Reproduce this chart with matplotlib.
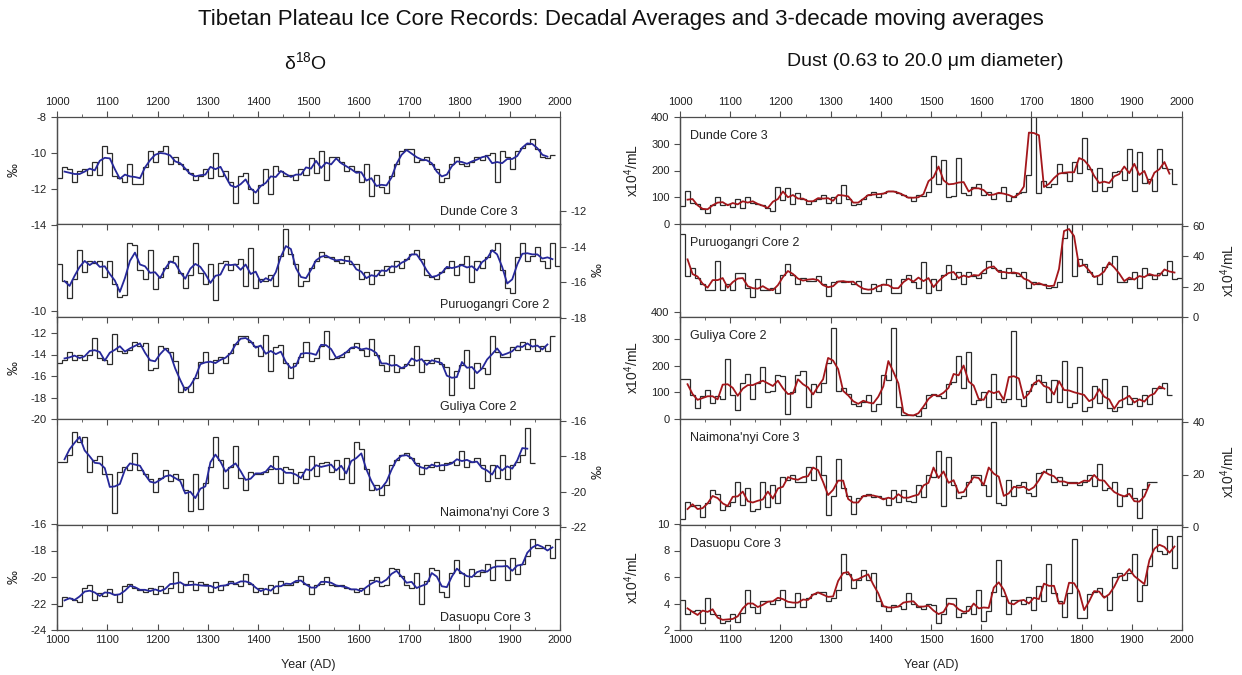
import numpy as np
from matplotlib import pyplot as plt
from matplotlib.ticker import MultipleLocator, FormatStrFormatter

plt.rcParams['font.family'] = ['Liberation Sans', 'DejaVu Sans']
plt.rcParams['axes.unicode_minus'] = False
plt.rcParams['mathtext.fontset'] = 'custom'
plt.rcParams['mathtext.rm'] = 'Liberation Sans'
plt.rcParams['mathtext.it'] = 'Liberation Sans:italic'

W, H = 1242, 675
FIRST_DECADE = 1000
DECADE = 10

CORES = ["Dunde Core 3", "Puruogangri Core 2", "Guliya Core 2",
         "Naimona'nyi Core 3", "Dasuopu Core 3"]

# decadal averages, first value = 1000-1009
dunde_d18o = [-11.4, -10.8, -10.9, -11.6, -11.0, -10.9, -11.2, -10.5, -11.2, -9.6,
              -10.0, -11.3, -11.4, -11.6, -10.6, -11.7, -11.7, -10.8, -9.9, -10.5,
              -9.9, -9.6, -10.6, -10.2, -10.6, -10.9, -11.1, -11.5, -11.3, -10.9,
              -11.4, -10.0, -11.3, -11.0, -11.6, -12.8, -11.3, -11.1, -12.0, -12.8,
              -11.8, -10.9, -12.3, -10.7, -11.0, -11.3, -11.2, -11.5, -10.9, -11.2,
              -10.3, -11.1, -9.9, -11.5, -10.2, -10.2, -10.5, -11.0, -10.7, -11.0,
              -11.6, -10.6, -12.4, -11.2, -11.9, -12.2, -11.3, -10.6, -9.9, -9.8,
              -9.8, -10.5, -10.4, -10.2, -10.6, -10.9, -11.6, -11.4, -10.6, -10.2,
              -10.6, -10.7, -10.5, -10.2, -10.4, -10.1, -10.0, -11.6, -9.9, -10.2,
              -10.9, -9.9, -9.7, -9.5, -9.2, -9.8, -10.2, -10.3, -10.1]
puru_d18o = [-15.0, -15.9, -16.9, -15.8, -14.2, -15.4, -14.8, -14.9, -14.8, -15.7,
             -14.8, -16.1, -16.8, -16.7, -13.8, -13.9, -15.3, -15.8, -14.2, -16.4,
             -15.7, -15.2, -14.8, -14.5, -15.5, -16.3, -15.6, -13.8, -15.5, -16.1,
             -15.0, -17.0, -14.9, -14.8, -15.3, -15.0, -14.7, -16.2, -14.1, -16.3,
             -15.8, -15.9, -15.6, -16.2, -14.5, -13.0, -14.4, -15.0, -16.2, -15.9,
             -15.2, -14.8, -14.3, -14.6, -14.6, -14.8, -14.9, -14.5, -15.0, -15.0,
             -15.8, -15.4, -16.1, -15.3, -15.6, -15.1, -15.4, -14.8, -15.2, -14.7,
             -14.4, -14.2, -14.7, -15.6, -15.7, -15.8, -15.4, -15.2, -14.8, -15.6,
             -15.0, -14.5, -16.0, -14.8, -15.2, -14.6, -14.2, -13.8, -15.3, -16.3,
             -16.6, -14.6, -13.8, -14.8, -14.5, -14.0, -14.8, -15.2, -13.8, -15.1]
guliya_d18o = [-14.8, -14.5, -13.8, -14.5, -14.0, -14.5, -14.0, -12.5, -14.3, -14.5,
               -14.9, -12.1, -13.7, -13.9, -13.6, -12.8, -13.2, -12.9, -15.4, -15.3,
               -13.2, -13.4, -13.8, -14.6, -17.5, -17.0, -17.5, -16.2, -14.7, -13.8,
               -15.7, -14.5, -14.2, -14.8, -13.9, -13.0, -12.3, -12.3, -12.8, -13.2,
               -14.1, -12.2, -15.5, -13.3, -13.1, -14.8, -16.2, -14.8, -14.2, -12.8,
               -14.6, -14.3, -13.2, -11.8, -14.4, -14.3, -14.2, -13.8, -13.4, -12.9,
               -13.6, -14.1, -12.6, -14.0, -15.0, -15.5, -14.0, -15.6, -15.3, -14.9,
               -15.0, -13.2, -15.6, -14.5, -14.8, -14.3, -14.9, -15.2, -17.8, -15.5,
               -15.0, -13.6, -17.1, -14.8, -15.3, -15.8, -12.3, -13.8, -14.2, -14.2,
               -13.3, -13.6, -12.8, -13.5, -12.6, -13.7, -13.2, -13.7, -12.3]
naimona_d18o = [-18.3, -18.3, -17.9, -16.6, -17.2, -16.9, -18.9, -18.2, -18.0, -19.0,
                -19.0, -21.2, -18.9, -18.6, -18.8, -17.8, -18.8, -19.0, -19.3, -20.0,
                -19.2, -18.8, -19.4, -19.0, -19.3, -19.9, -21.1, -19.0, -21.0, -19.5,
                -18.6, -16.9, -18.2, -19.8, -18.6, -17.4, -19.2, -19.9, -18.9, -19.0,
                -19.0, -18.9, -18.7, -18.0, -19.5, -18.6, -18.7, -19.5, -18.9, -19.3,
                -18.0, -19.1, -18.4, -18.3, -18.9, -18.2, -19.3, -18.1, -19.5, -17.2,
                -17.6, -18.7, -19.9, -19.6, -20.2, -19.6, -18.5, -18.2, -17.9, -17.8,
                -18.1, -18.4, -19.0, -18.5, -18.6, -18.3, -18.8, -18.4, -18.3, -18.5,
                -17.7, -18.6, -18.3, -18.1, -18.5, -19.4, -18.5, -19.2, -17.9, -19.3,
                -18.5, -18.3, -17.9, -16.4, -18.4]
dasuopu_d18o = [-22.2, -21.5, -21.6, -21.7, -21.9, -20.8, -20.6, -21.7, -21.2, -21.4,
                -20.9, -21.3, -21.9, -20.7, -20.5, -20.8, -21.0, -21.1, -20.8, -21.3,
                -20.7, -21.2, -20.8, -19.6, -21.1, -20.5, -20.3, -21.0, -20.4, -20.5,
                -21.1, -20.4, -21.0, -20.6, -20.3, -20.5, -20.7, -19.8, -20.5, -21.1,
                -20.8, -21.3, -20.6, -21.2, -20.3, -20.6, -20.6, -20.4, -19.9, -20.5,
                -21.3, -20.6, -20.5, -20.0, -20.6, -20.7, -20.6, -20.8, -20.9, -21.1,
                -20.8, -21.3, -20.2, -20.0, -20.7, -20.6, -19.3, -19.4, -19.9, -20.6,
                -20.8, -19.7, -22.0, -20.3, -19.3, -19.5, -21.1, -21.5, -19.7, -18.7,
                -19.7, -20.7, -19.4, -19.9, -19.6, -19.0, -20.2, -18.7, -18.7, -20.2,
                -18.6, -19.8, -19.0, -18.4, -17.1, -17.8, -17.8, -17.6, -18.6, -17.1]

dunde_dust = [68, 125, 80, 75, 55, 40, 70, 100, 70, 75,
              65, 95, 60, 100, 80, 75, 70, 60, 50, 140,
              90, 135, 75, 115, 95, 75, 85, 95, 110, 80,
              100, 80, 145, 95, 70, 75, 95, 110, 120, 100,
              115, 125, 125, 115, 110, 100, 85, 110, 105, 120,
              255, 150, 240, 100, 105, 245, 115, 110, 140, 150,
              110, 120, 95, 115, 140, 85, 100, 115, 120, 185,
              720, 115, 160, 140, 150, 225, 190, 160, 230, 190,
              320, 205, 125, 210, 125, 140, 195, 200, 165, 280,
              125, 270, 155, 170, 125, 280, 210, 205, 150]
puru_dust = [55, 27, 32, 26, 22, 18, 18, 37, 18, 22,
             18, 29, 29, 19, 13, 25, 18, 18, 19, 16,
             28, 35, 28, 22, 26, 24, 24, 27, 22, 14,
             23, 24, 23, 24, 22, 24, 16, 16, 22, 17,
             22, 25, 16, 16, 25, 28, 23, 19, 36, 16,
             25, 18, 28, 34, 25, 30, 22, 30, 27, 26,
             29, 37, 32, 31, 26, 32, 29, 27, 30, 19,
             23, 22, 22, 19, 20, 23, 52, 95, 27, 38,
             35, 30, 27, 22, 33, 35, 40, 23, 23, 25,
             30, 19, 32, 28, 25, 29, 28, 37, 25, 26]
guliya_dust = [150, 150, 90, 40, 85, 110, 60, 85, 75, 225,
               90, 35, 135, 170, 75, 135, 195, 100, 105, 165,
               160, 20, 100, 165, 180, 45, 130, 100, 135, 210,
               340, 105, 115, 95, 55, 50, 65, 90, 30, 55,
               165, 145, 340, 45, 15, 15, 15, 10, 40, 90,
               95, 85, 80, 130, 140, 235, 115, 250, 55, 70,
               100, 45, 170, 75, 65, 75, 330, 75, 50, 105,
               130, 165, 140, 65, 145, 65, 215, 45, 60, 195,
               30, 45, 125, 60, 150, 40, 30, 45, 125, 55,
               80, 50, 90, 55, 115, 115, 135, 90]
naimona_dust = [3, 9.5, 8, 8.5, 4, 9, 14, 12.5, 6.5, 8,
                9.5, 17, 8.5, 15, 6, 7, 17, 7.5, 16, 9,
                19, 18, 20, 17, 17, 23, 18, 27, 20, 4.5,
                12, 26, 15, 12, 5, 11, 12, 12.5, 11.5, 12,
                11, 8.5, 14, 9.5, 14, 10, 9.5, 16, 11.5, 20,
                19, 29, 8, 26.5, 16, 11, 12, 17, 20, 20,
                16, 12, 40, 9, 8.5, 18, 12, 16, 17, 13,
                12, 20.5, 21, 22, 17, 19, 16, 17, 17, 16,
                17, 20, 15.5, 24, 14, 15, 17, 8, 12, 15,
                11, 3.5, 14.5, 17, 17]
dasuopu_dust = [4.3, 3.2, 3.4, 3.5, 2.5, 4.4, 3.2, 3.1, 2.5, 2.7,
                3.2, 2.6, 3.3, 5.0, 3.7, 3.3, 4.2, 4.2, 4.0, 4.3,
                5.0, 3.7, 3.7, 4.8, 3.7, 4.4, 4.7, 4.9, 4.9, 4.2,
                4.4, 5.0, 7.7, 6.2, 5.2, 5.8, 6.5, 5.8, 6.3, 4.2,
                3.8, 3.4, 3.9, 3.8, 3.6, 4.8, 4.0, 3.7, 3.6, 4.0,
                3.9, 2.5, 3.2, 4.4, 4.4, 3.0, 3.3, 3.8, 3.2, 5.0,
                2.7, 3.4, 4.9, 7.3, 4.6, 3.2, 4.3, 4.3, 4.0, 4.5,
                3.5, 5.3, 4.2, 7.0, 4.8, 4.2, 3.0, 4.8, 8.9, 2.9,
                2.9, 4.7, 4.9, 5.2, 4.6, 3.5, 6.0, 6.3, 5.8, 6.3,
                7.7, 4.2, 5.4, 6.8, 9.6, 8.0, 7.7, 9.1, 6.7, 9.1]

D18O = [dunde_d18o, puru_d18o, guliya_d18o, naimona_d18o, dasuopu_d18o]
DUST = [dunde_dust, puru_dust, guliya_dust, naimona_dust, dasuopu_dust]

# y axis of each record: side, pixel top, pixel bottom, value top, value bottom, step
D18O_AXES = [('left', 117, 225, -8, -14, 2),
             ('right', 211, 318, -12, -18, 2),
             ('left', 311.5, 419, -10, -20, 2),
             ('right', 421, 527, -16, -22, 2),
             ('left', 524, 630, -16, -24, 2)]
DUST_AXES = [('left', 117, 224, 400, 0, 100),
             ('right', 226, 317, 60, 0, 20),
             ('left', 312, 419, 400, 0, 100),
             ('right', 422, 527, 40, 0, 20),
             ('left', 524, 630, 10, 2, 2)]

PANEL_PX = [117, 224, 317, 419, 525, 630]
STEP_COLOR = '#2b2b2b'
FRAME_COLOR = '#4d4d4d'

fig = plt.figure(figsize=(W / 100, H / 100), dpi=100)


def draw_column(x0, x1, series, specs, ma_color, ylab, ylab_x, names_top):
    w = (x1 - x0) / W
    n = len(series)
    for i in range(n):
        top, bot = PANEL_PX[i], PANEL_PX[i + 1]
        side, s_top, s_bot, v_top, v_bot, step = specs[i]
        slope = (v_bot - v_top) / (s_bot - s_top)

        ax = fig.add_axes([x0 / W, 1 - bot / H, w, (bot - top) / H])
        ax.set_xlim(1000, 2000)
        ax.set_ylim(v_top + slope * (bot - s_top), v_top + slope * (top - s_top))
        ax.set_yticks([])
        for sp in ax.spines.values():
            sp.set_color(FRAME_COLOR)
            sp.set_linewidth(0.9)

        vals = np.asarray(series[i], float)
        edges = FIRST_DECADE + DECADE * np.arange(len(vals) + 1)
        ax.stairs(vals, edges, baseline=None, color=STEP_COLOR, lw=0.9)
        ma = np.convolve(vals, np.ones(3) / 3, mode='valid')
        ax.plot(edges[1:-2] + DECADE / 2, ma, color=ma_color, lw=1.3)

        ax.xaxis.set_major_locator(MultipleLocator(100))
        ax.xaxis.set_minor_locator(MultipleLocator(50))
        ax.tick_params(axis='x', which='both', colors=FRAME_COLOR, labelcolor='#222222',
                       labelsize=8)
        ax.tick_params(axis='x', which='major', length=4)
        ax.tick_params(axis='x', which='minor', length=2.5)
        if i == 0:
            ax.tick_params(axis='x', which='both', top=True, bottom=False,
                           labeltop=True, labelbottom=False, direction='out')
        elif i == n - 1:
            ax.tick_params(axis='x', which='both', top=True, bottom=True,
                           labeltop=False, labelbottom=True, direction='in')
        else:
            ax.tick_params(axis='x', which='both', top=True, bottom=False,
                           labeltop=False, labelbottom=False, direction='in')

        # value axis of this record (may reach into the neighbour panel)
        tax = fig.add_axes([x0 / W, 1 - s_bot / H, w, (s_bot - s_top) / H])
        tax.set_xlim(1000, 2000)
        tax.set_ylim(v_bot, v_top)
        tax.set_xticks([])
        tax.patch.set_alpha(0)
        for k, sp in tax.spines.items():
            sp.set_visible(k == side)
            sp.set_color(FRAME_COLOR)
            sp.set_linewidth(0.9)
        tax.yaxis.set_ticks_position(side)
        tax.set_yticks(np.arange(v_bot, v_top + step / 2, step))
        tax.yaxis.set_major_formatter(FormatStrFormatter('%g'))
        tax.tick_params(axis='y', direction='out', length=4, labelsize=8,
                        colors=FRAME_COLOR, labelcolor='#222222')

        lx = ylab_x[0] if side == 'left' else ylab_x[1]
        fig.text(lx / W, 1 - (top + bot) / 2 / H, ylab, rotation=90,
                 ha='center', va='center', fontsize=10, color='#222222')

        if names_top:
            fig.text(690 / W, 1 - (top + 19) / H, CORES[i], ha='left', va='center',
                     fontsize=9, color='#222222')
        else:
            fig.text(440 / W, 1 - (bot - 12) / H, CORES[i], ha='left', va='center',
                     fontsize=9, color='#222222')

    fig.text((x0 + x1) / 2 / W, 1 - 665 / H, 'Year (AD)', ha='center', va='center',
             fontsize=9, color='#222222')


draw_column(57, 560, D18O, D18O_AXES, '#26289a', '\u2030', (14, 598), False)
draw_column(680, 1182, DUST, DUST_AXES, '#a3161b', r'x10$^4$/mL', (632, 1228), True)

fig.text(0.5, 1 - 20 / H,
         'Tibetan Plateau Ice Core Records: Decadal Averages and 3-decade moving averages',
         ha='center', va='center', fontsize=16, color='#111111')
fig.text(305 / W, 1 - 62 / H, '\u03b4$^{18}$O', ha='center', va='center', fontsize=14,
         color='#111111')
fig.text(925 / W, 1 - 62 / H, 'Dust (0.63 to 20.0 \u03bcm diameter)', ha='center',
         va='center', fontsize=14, color='#111111')

fig.savefig('out.png', dpi=100, facecolor='white')
